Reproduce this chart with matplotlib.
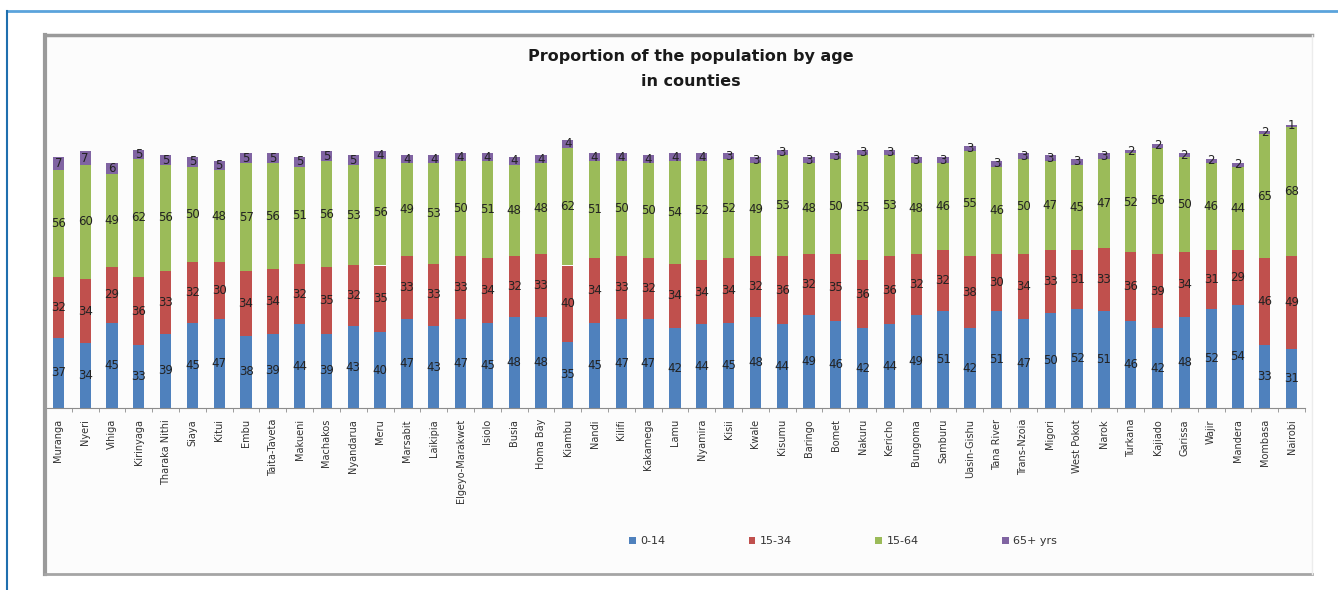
"""Stacked bar chart: proportion of the population by age group in Kenyan counties."""

import matplotlib
matplotlib.use("Agg")
import matplotlib.pyplot as plt
import numpy as np
from matplotlib.patches import Rectangle
from matplotlib.lines import Line2D

counties = [
    "Muranga", "Nyeri", "Vihiga", "Kirinyaga", "Tharaka Nithi", "Siaya", "Kitui",
    "Embu", "Taita-Taveta", "Makueni", "Machakos", "Nyandarua", "Meru", "Marsabit",
    "Laikipia", "Elgeyo-Marakwet", "Isiolo", "Busia", "Homa Bay", "Kiambu", "Nandi",
    "Kilifi", "Kakamega", "Lamu", "Nyamira", "Kisii", "Kwale", "Kisumu", "Baringo",
    "Bomet", "Nakuru", "Kericho", "Bungoma", "Samburu", "Uasin-Gishu", "Tana River",
    "Trans-Nzoia", "Migori", "West Pokot", "Narok", "Turkana", "Kajiado", "Garissa",
    "Wajir", "Mandera", "Mombasa", "Nairobi",
]

age_0_14 = [37, 34, 45, 33, 39, 45, 47, 38, 39, 44, 39, 43, 40, 47, 43, 47, 45, 48, 48, 35,
            45, 47, 47, 42, 44, 45, 48, 44, 49, 46, 42, 44, 49, 51, 42, 51, 47, 50, 52, 51,
            46, 42, 48, 52, 54, 33, 31]
age_15_34 = [32, 34, 29, 36, 33, 32, 30, 34, 34, 32, 35, 32, 35, 33, 33, 33, 34, 32, 33, 40,
             34, 33, 32, 34, 34, 34, 32, 36, 32, 35, 36, 36, 32, 32, 38, 30, 34, 33, 31, 33,
             36, 39, 34, 31, 29, 46, 49]
age_15_64 = [56, 60, 49, 62, 56, 50, 48, 57, 56, 51, 56, 53, 56, 49, 53, 50, 51, 48, 48, 62,
             51, 50, 50, 54, 52, 52, 49, 53, 48, 50, 55, 53, 48, 46, 55, 46, 50, 47, 45, 47,
             52, 56, 50, 46, 44, 65, 68]
age_65_plus = [7, 7, 6, 5, 5, 5, 5, 5, 5, 5, 5, 5, 4, 4, 4, 4, 4, 4, 4, 4,
               4, 4, 4, 4, 4, 3, 3, 3, 3, 3, 3, 3, 3, 3, 3, 3, 3, 3, 3, 3,
               2, 2, 2, 2, 2, 2, 1]

series = [
    ("0-14", age_0_14, "#4f81bd"),
    ("15-34", age_15_34, "#c0504d"),
    ("15-64", age_15_64, "#9bbb59"),
    ("65+ yrs", age_65_plus, "#8064a2"),
]

W, H = 1338, 590
fig = plt.figure(figsize=(W / 100, H / 100), dpi=100)


def fig_line(xs, ys, **kw):
    """Line in pixel coordinates measured from the top-left corner."""
    fig.add_artist(Line2D([v / W for v in xs], [1 - v / H for v in ys],
                          transform=fig.transFigure, **kw))


# outer page rules (blue)
fig_line([7, W], [11, 11], color="#5ba3dc", lw=2)
fig_line([7, 7], [11, H], color="#1f6fae", lw=1.5)

# chart box: faint fill, grey shadowed edges, lighter right side
fig.add_artist(Rectangle((45 / W, 1 - 574 / H), (1312 - 45) / W, (574 - 35) / H,
                         transform=fig.transFigure, facecolor="#fcfcfc",
                         edgecolor="none", zorder=0))
fig_line([45, 1312], [35, 35], color="#9a9a9a", lw=2.5)
fig_line([45, 45], [35, 574], color="#9a9a9a", lw=3)
fig_line([45, 1312], [574, 574], color="#a5a5a5", lw=2)
fig_line([1312, 1312], [35, 574], color="#ececec", lw=1)

ax = fig.add_axes([45 / W, 1 - 408 / H, (1305 - 45) / W, (408 - 123) / H])
ax.patch.set_alpha(0)

x = np.arange(len(counties))
bottom = np.zeros(len(counties))
for name, vals, color in series:
    vals = np.array(vals)
    bars = ax.bar(x, vals, width=0.42, bottom=bottom, color=color, label=name, zorder=2)
    ax.bar_label(bars, labels=[str(v) for v in vals], label_type="center",
                 fontsize=8.5, color="#222222")
    bottom += vals

ax.set_xlim(-0.5, len(counties) - 0.5)
ax.set_ylim(0, 150)
ax.set_yticks([])
for side in ("top", "right", "left"):
    ax.spines[side].set_visible(False)
ax.spines["bottom"].set_color("#8c8c8c")

ax.set_xticks(x)
ax.set_xticklabels(counties, rotation=90, fontsize=7, color="#333333")
ax.tick_params(axis="x", which="major", length=0, pad=8)
ax.set_xticks(np.arange(-0.5, len(counties)), minor=True)
ax.tick_params(axis="x", which="minor", length=3, color="#8c8c8c")

fig.text(691 / W, 1 - 56 / H, "Proportion of the population by age", ha="center",
         va="center", fontsize=11.5, fontweight="bold", color="#1a1a1a")
fig.text(691 / W, 1 - 82 / H, "in counties", ha="center", va="center",
         fontsize=11.5, fontweight="bold", color="#1a1a1a")

fig.legend(loc="center", bbox_to_anchor=(843 / W, 1 - 541 / H), ncol=4, frameon=False,
           fontsize=8, handlelength=0.6, handleheight=0.6, handletextpad=0.4,
           columnspacing=7.5, labelcolor="#333333")

fig.savefig("out.png", dpi=100)
